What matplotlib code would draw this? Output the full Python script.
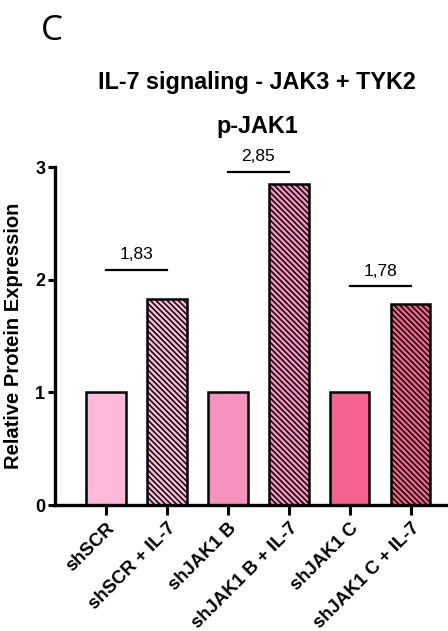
#!/usr/bin/env python3
"""
Bar chart of relative p-JAK1 expression after IL-7 stimulation.
"""

import matplotlib
matplotlib.use('Agg')
import matplotlib.pyplot as plt

conditions = ['shSCR', 'shSCR + IL-7', 'shJAK1 B', 'shJAK1 B + IL-7',
              'shJAK1 C', 'shJAK1 C + IL-7']
expression = [1.0, 1.83, 1.0, 2.85, 1.0, 1.78]
bar_colors = ['#FDB8DA', '#FDB8DA', '#F792C0', '#F792C0', '#F5628F', '#F5628F']
stimulated = [False, True, False, True, False, True]

# fold-change brackets: (left bar, right bar, line height, label)
brackets = [(0, 1, 2.09, '1,83'), (2, 3, 2.96, '2,85'), (4, 5, 1.94, '1,78')]


def main():
    plt.rcParams['font.family'] = ['Liberation Sans', 'DejaVu Sans']
    plt.rcParams['hatch.linewidth'] = 1.1
    plt.rcParams['hatch.color'] = '#2a1a22'

    fig = plt.figure(figsize=(4.48, 6.31), dpi=100)
    ax = fig.add_axes([55 / 448, 1 - 505 / 631, 393 / 448, 338 / 631])

    x = range(len(conditions))
    for i, (val, col, hat) in enumerate(zip(expression, bar_colors, stimulated)):
        ax.bar(i, val, width=0.64, color=col, edgecolor='black', linewidth=1.8,
               hatch='\\' * 6 if hat else None, zorder=2)

    for a, b, h, lab in brackets:
        ax.plot([a, b], [h, h], color='black', linewidth=1.6, clip_on=False)
        ax.text((a + b) / 2, h + 0.07, lab, ha='center', va='bottom',
                fontsize=12.5, clip_on=False)

    ax.set_xlim(-0.836, 5.607)
    ax.set_ylim(0, 3)
    ax.set_yticks([0, 1, 2, 3])
    ax.set_xticks(list(x))
    ax.set_xticklabels(conditions, rotation=45, ha='right', va='top',
                       rotation_mode='anchor', fontweight='bold', fontsize=13.4)
    for t in ax.get_yticklabels():
        t.set_fontweight('bold')
        t.set_fontsize(13)
    ax.tick_params(axis='both', width=2.2, length=7, direction='out')
    ax.tick_params(axis='y', length=5, pad=2)
    ax.spines['top'].set_visible(False)
    ax.spines['right'].set_visible(False)
    ax.spines['left'].set_linewidth(2.4)
    ax.spines['bottom'].set_linewidth(2.4)
    ax.set_ylabel('Relative Protein Expression', fontsize=14.5,
                  fontweight='bold')
    ax.yaxis.set_label_coords(-0.082, 0.5)

    fig.text(41 / 448, 1 - 31 / 631, 'C', fontsize=25, ha='left', va='center',
             family=['Open Sans', 'DejaVu Sans'])
    fig.text(257 / 448, 1 - 89 / 631, 'IL-7 signaling - JAK3 + TYK2',
             fontsize=16.8, fontweight='bold', ha='center', va='baseline')
    fig.text(257 / 448, 1 - 133 / 631, 'p-JAK1',
             fontsize=16.8, fontweight='bold', ha='center', va='baseline')

    fig.savefig('out.png', dpi=100)


if __name__ == '__main__':
    main()
